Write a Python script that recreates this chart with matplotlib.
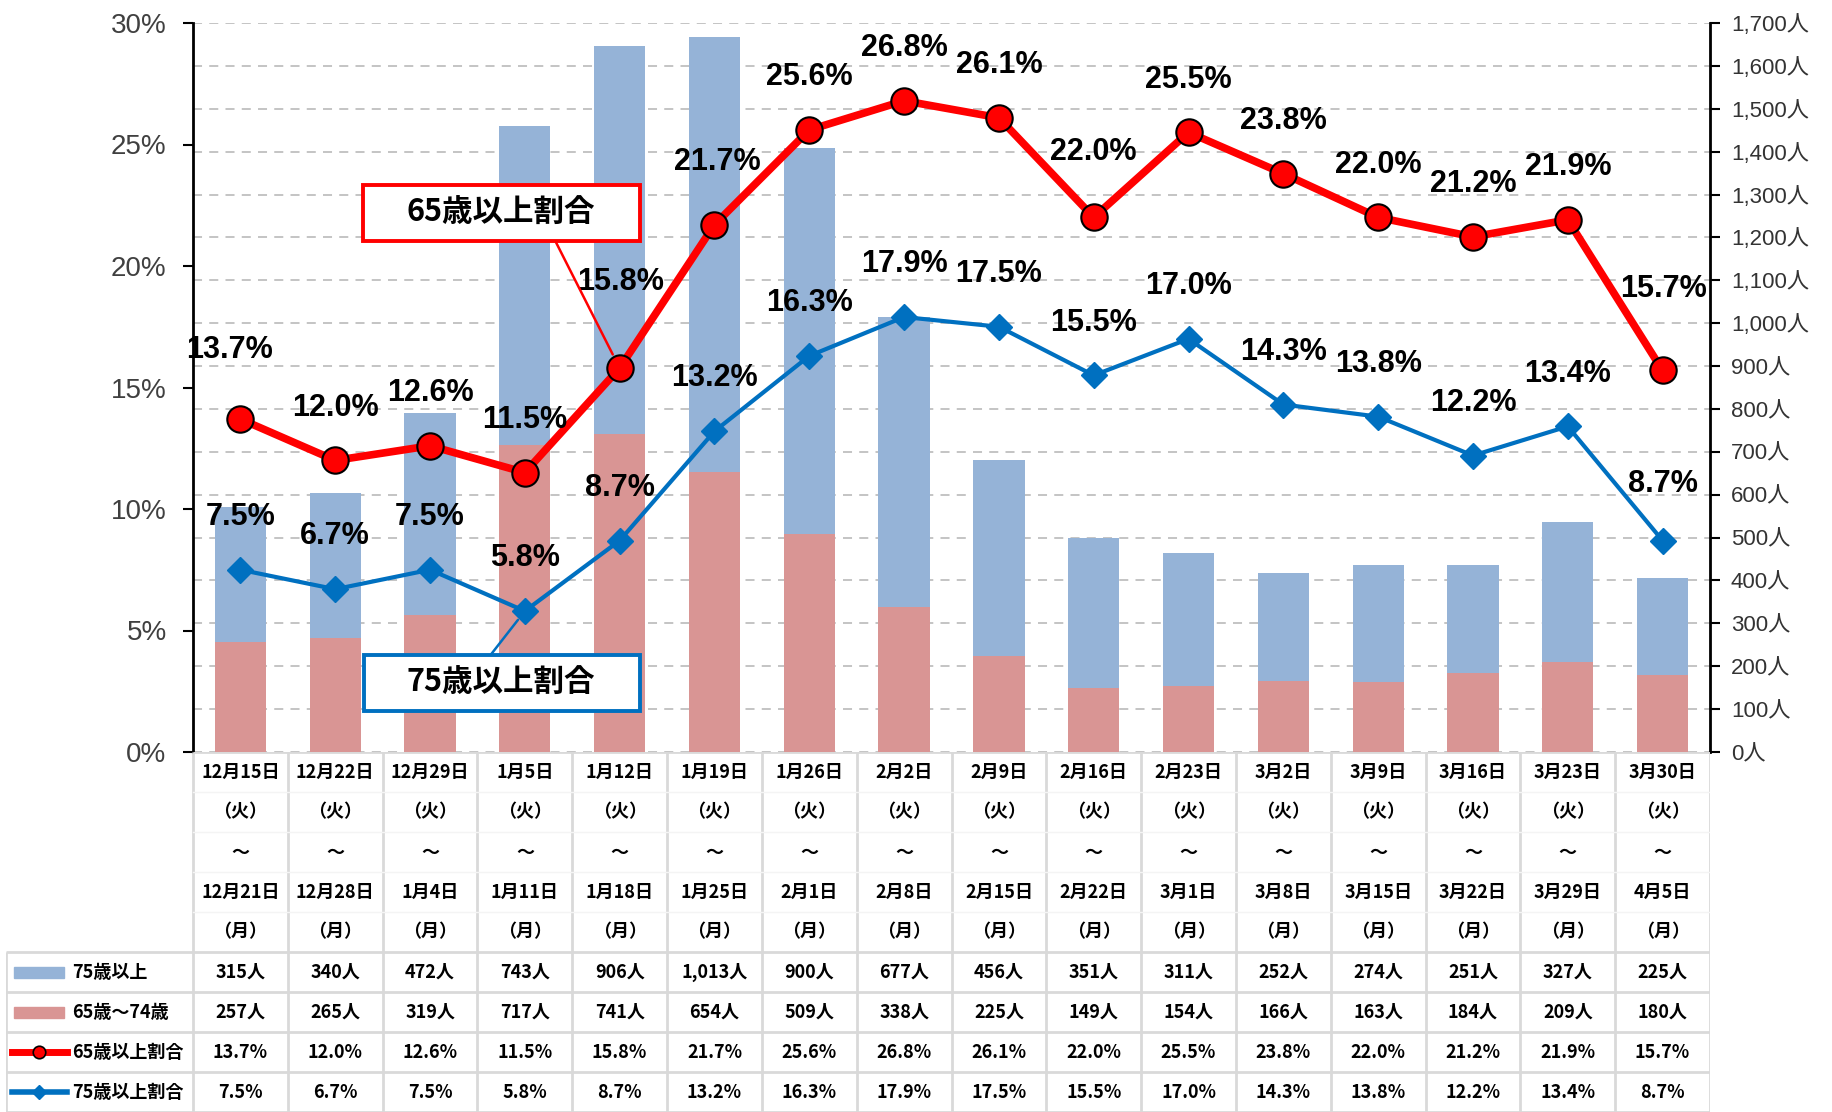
import matplotlib
matplotlib.use("Agg")
import matplotlib.pyplot as plt
from matplotlib.patches import Rectangle
from matplotlib.lines import Line2D

plt.rcParams['font.family'] = ['Liberation Sans', 'Noto Sans CJK JP', 'DejaVu Sans']

# 週（開始日・終了日）
start_days = ["12月15日", "12月22日", "12月29日", "1月5日", "1月12日", "1月19日", "1月26日", "2月2日",
              "2月9日", "2月16日", "2月23日", "3月2日", "3月9日", "3月16日", "3月23日", "3月30日"]
end_days = ["12月21日", "12月28日", "1月4日", "1月11日", "1月18日", "1月25日", "2月1日", "2月8日",
            "2月15日", "2月22日", "3月1日", "3月8日", "3月15日", "3月22日", "3月29日", "4月5日"]

over75 = [315, 340, 472, 743, 906, 1013, 900, 677, 456, 351, 311, 252, 274, 251, 327, 225]
age65_74 = [257, 265, 319, 717, 741, 654, 509, 338, 225, 149, 154, 166, 163, 184, 209, 180]
rate65 = [13.7, 12.0, 12.6, 11.5, 15.8, 21.7, 25.6, 26.8, 26.1, 22.0, 25.5, 23.8, 22.0, 21.2, 21.9, 15.7]
rate75 = [7.5, 6.7, 7.5, 5.8, 8.7, 13.2, 16.3, 17.9, 17.5, 15.5, 17.0, 14.3, 13.8, 12.2, 13.4, 8.7]

C_BLUE_BAR = '#95B3D7'
C_PINK_BAR = '#D99594'
C_RED = '#FF0000'
C_BLUE = '#0070C0'
GRID = '#D9D9D9'
CJK = ['Noto Sans CJK JP', 'DejaVu Sans']

W, H = 1833, 1112
fig = plt.figure(figsize=(W / 100, H / 100), dpi=100)

x0, x1 = 193, 1710
ytop, ybot = 23, 752
ax = fig.add_axes([x0 / W, 1 - ybot / H, (x1 - x0) / W, (ybot - ytop) / H])
ax2 = ax.twinx()
n = len(over75)
xs = list(range(n))

# 棒（右軸：人数）
ax.bar(xs, age65_74, width=0.54, color=C_PINK_BAR, zorder=2)
ax.bar(xs, over75, width=0.54, bottom=age65_74, color=C_BLUE_BAR, zorder=2)
ax.set_xlim(-0.5, n - 0.5)
ax.set_ylim(0, 1700)
ax.yaxis.tick_right()
ax.set_yticks(range(0, 1701, 100))
ax.set_yticklabels([f"{v:,}人" for v in range(0, 1701, 100)])
ax.tick_params(axis='y', direction='out', length=7, width=1.5, labelsize=16,
               labelcolor='#333333', pad=8)
for lab in ax.get_yticklabels():
    lab.set_fontfamily(['Liberation Sans', 'Noto Sans CJK JP'])
ax.set_xticks([])
ax.grid(axis='y', color='#BFBFBF', linestyle=(0, (5, 4)), linewidth=1.3, zorder=0)
ax.set_axisbelow(True)
for s in ['top', 'bottom', 'left', 'right']:
    ax.spines[s].set_visible(False)

# 折れ線（左軸：割合）
ax2.set_ylim(0, 30)
ax2.yaxis.tick_left()
ax2.set_yticks(range(0, 31, 5))
ax2.set_yticklabels([f"{v}%" for v in range(0, 31, 5)])
ax2.tick_params(axis='y', direction='out', length=7, width=1.5, labelsize=20,
                labelcolor='#404040', pad=12)
for s in ['top', 'bottom']:
    ax2.spines[s].set_visible(False)
ax2.spines['left'].set_linewidth(2)
ax2.spines['right'].set_linewidth(2)

ax2.plot(xs, rate65, color=C_RED, linewidth=5.5, marker='o', markersize=19,
         markerfacecolor=C_RED, markeredgecolor='black', markeredgewidth=1.5, zorder=4)
ax2.plot(xs, rate75, color=C_BLUE, linewidth=3, marker='D', markersize=13,
         markerfacecolor=C_BLUE, markeredgecolor=C_BLUE, zorder=3)

red_off = {0: (-8, 50), 4: (1, 62), 5: (2, 45), 9: (0, 47), 15: (1, 59)}
blue_off = {15: (0, 41)}
for i, v in enumerate(rate65):
    dx, dy = red_off.get(i, (0, 38))
    ax2.annotate(f"{v:.1f}%", (i, v), xytext=(dx, dy), textcoords='offset points',
                 ha='center', va='center', fontsize=22, fontweight='bold', zorder=6)
for i, v in enumerate(rate75):
    dx, dy = blue_off.get(i, (0, 38))
    ax2.annotate(f"{v:.1f}%", (i, v), xytext=(dx, dy), textcoords='offset points',
                 ha='center', va='center', fontsize=22, fontweight='bold', zorder=6)

# 吹き出し
ax2.annotate("", xy=(4, rate65[4]), xytext=(3.32, 21.04),
             arrowprops=dict(arrowstyle='-', color=C_RED, lw=1.8, shrinkA=0, shrinkB=11),
             zorder=7)
ax2.add_patch(Rectangle((1.29, 21.04), 2.92, 2.31, fc='white', ec=C_RED, lw=2.8, zorder=8))
ax2.text(2.75, 22.2, "65歳以上割合", ha='center', va='center', fontsize=22,
         fontweight='bold', family=CJK, zorder=9)

ax2.annotate("", xy=(3, rate75[3]), xytext=(2.62, 3.9),
             arrowprops=dict(arrowstyle='-', color=C_BLUE, lw=1.8, shrinkA=0, shrinkB=8),
             zorder=7)
ax2.add_patch(Rectangle((1.30, 1.69), 2.91, 2.31, fc='white', ec=C_BLUE, lw=2.8, zorder=8))
ax2.text(2.75, 2.84, "75歳以上割合", ha='center', va='center', fontsize=22,
         fontweight='bold', family=CJK, zorder=9)

# データテーブル
tl = 6
tab = fig.add_axes([tl / W, 0, (x1 - tl) / W, (H - ybot) / H])
legw = (x0 - tl) / ((x1 - x0) / n)
xl = -0.5 - legw
tab.set_xlim(xl, n - 0.5)
tab.set_ylim(9, 0)
tab.axis('off')

lc = dict(color=GRID, linewidth=2, solid_capstyle='butt')
for k in range(n + 1):
    tab.plot([k - 0.5, k - 0.5], [0, 9], **lc)
tab.plot([xl, xl], [5, 9], **lc)
tab.plot([-0.5, n - 0.5], [0, 0], **lc)
for r in range(5, 10):
    tab.plot([xl, n - 0.5], [r, r], **lc)
for r in range(1, 5):
    tab.plot([-0.5, n - 0.5], [r, r], color='#F4F4F4', linewidth=1)

tfs = 13
for i in range(n):
    for r, t in enumerate([start_days[i], "（火）", "～", end_days[i], "（月）"]):
        tab.text(i, r + 0.5, t, ha='center', va='center', fontsize=tfs,
                 fontweight='bold', family=CJK)
    tab.text(i, 5.5, f"{over75[i]:,}人", ha='center', va='center', fontsize=tfs,
             fontweight='bold', family=CJK)
    tab.text(i, 6.5, f"{age65_74[i]:,}人", ha='center', va='center', fontsize=tfs,
             fontweight='bold', family=CJK)
    tab.text(i, 7.5, f"{rate65[i]:.1f}%", ha='center', va='center', fontsize=tfs,
             fontweight='bold', family=CJK)
    tab.text(i, 8.5, f"{rate75[i]:.1f}%", ha='center', va='center', fontsize=tfs,
             fontweight='bold', family=CJK)

px = 1 / ((x1 - x0) / n)
sx0, sx1 = xl + 8 * px, xl + 58 * px
tab.add_patch(Rectangle((sx0, 5.38), sx1 - sx0, 0.26, color=C_BLUE_BAR))
tab.add_patch(Rectangle((sx0, 6.38), sx1 - sx0, 0.26, color=C_PINK_BAR))
tab.add_line(Line2D([xl + 6 * px, xl + 61 * px], [7.5, 7.5], color=C_RED, linewidth=5))
tab.plot([(xl + 33 * px)], [7.5], marker='o', markersize=9, color=C_RED,
         markeredgecolor='black', markeredgewidth=1.2)
tab.add_line(Line2D([xl + 6 * px, xl + 61 * px], [8.5, 8.5], color=C_BLUE, linewidth=4))
tab.plot([(xl + 33 * px)], [8.5], marker='D', markersize=7, color=C_BLUE)
labx = xl + 66 * px
for r, t in enumerate(["75歳以上", "65歳～74歳", "65歳以上割合", "75歳以上割合"]):
    tab.text(labx, 5.5 + r, t, ha='left', va='center', fontsize=tfs,
             fontweight='bold', family=CJK)

fig.savefig("out.png", dpi=100)
